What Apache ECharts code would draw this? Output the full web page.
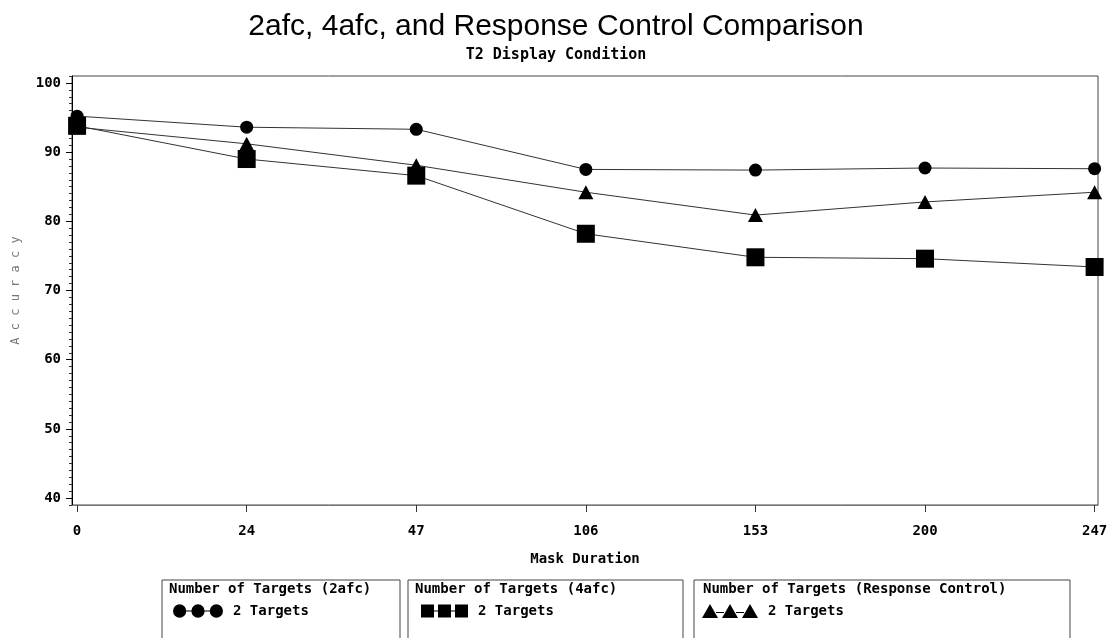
<!DOCTYPE html>
<html>
<head>
<meta charset="utf-8">
<title>2afc, 4afc, and Response Control Comparison</title>
<script src="https://cdn.jsdelivr.net/npm/echarts@6/dist/echarts.min.js"></script>
<style>
  html, body { margin: 0; padding: 0; background: #fff; }
  #chart { width: 1112px; height: 638px; }
</style>
</head>
<body>
<div id="chart"></div>
<script>
// x categories (mask duration, equally spaced)
var maskLabels = ['0', '24', '47', '106', '153', '200', '247'];
// accuracy per condition
var acc2afc = [95.2, 93.6, 93.3, 87.5, 87.4, 87.7, 87.6];
var acc4afc = [93.8, 89.0, 86.6, 78.2, 74.8, 74.6, 73.4];
var accResp = [93.6, 91.2, 88.1, 84.2, 80.9, 82.8, 84.2];
// y tick labels
var yTicks = [40, 50, 60, 70, 80, 90, 100];

var mono = 'DejaVu Sans Mono';
var monoSize = 14;

function toPoints(arr) {
  return arr.map(function (v, i) { return [i, v]; });
}

var minorTicks = [];
for (var t = 39; t <= 101; t++) minorTicks.push(t);
var xIdx = maskLabels.map(function (s, i) { return i; });

// legend icons: three markers joined by a line
var circleIcon = 'path://M0.5,7A6.5,6.5,0,1,1,13.5,7A6.5,6.5,0,1,1,0.5,7Z' +
  'M13,6.5L19,6.5L19,7.5L13,7.5Z' +
  'M18.5,7A6.5,6.5,0,1,1,31.5,7A6.5,6.5,0,1,1,18.5,7Z' +
  'M31,6.5L37,6.5L37,7.5L31,7.5Z' +
  'M36.5,7A6.5,6.5,0,1,1,49.5,7A6.5,6.5,0,1,1,36.5,7Z';
var squareIcon = 'path://M0,0L13,0L13,13L0,13Z M13,6L17,6L17,7L13,7Z M17,0L30,0L30,13L17,13Z' +
  'M30,6L34,6L34,7L30,7Z M34,0L47,0L47,13L34,13Z';
var triIcon = 'path://M8,0L16,14L0,14Z M14,8L22,8L22,9L14,9Z M28,0L36,14L20,14Z' +
  'M34,8L42,8L42,9L34,9Z M48,0L56,14L40,14Z';

var myChart = echarts.init(document.getElementById('chart'));

var lineStyle = { color: '#333', width: 1 };
var monoText = { fontFamily: mono, fontSize: monoSize, fontWeight: 'bold', color: '#000' };

function legendFor(name, icon, left, w, h) {
  return {
    left: left, top: 599,
    itemWidth: w, itemHeight: h,
    data: [{ name: name, icon: icon }],
    formatter: function () { return '2 Targets'; },
    textStyle: { fontFamily: mono, fontSize: monoSize, fontWeight: 'bold', color: '#000', padding: [0, 0, 0, 5] }
  };
}

function boxTitle(text, left) {
  return { type: 'text', left: left, top: 582,
    style: { text: text, font: 'bold ' + monoSize + 'px "DejaVu Sans Mono"', fill: '#000' } };
}

var option = {
  animation: false,
  backgroundColor: '#fff',
  title: [{
    text: '2afc, 4afc, and Response Control Comparison',
    left: 'center',
    top: 7,
    textStyle: { fontFamily: 'Liberation Sans', fontSize: 30, fontWeight: 'normal', color: '#000' }
  }, {
    text: 'T2 Display Condition',
    left: 'center',
    top: 43,
    textStyle: { fontFamily: mono, fontSize: 15, fontWeight: 'bold', color: '#000' }
  }],
  grid: {
    left: 72, right: 14, top: 76, bottom: 133,
    show: true, borderColor: '#444', borderWidth: 1
  },
  xAxis: {
    type: 'value',
    min: -0.03,
    max: 6.02,
    splitLine: { show: false },
    axisLine: { onZero: false, lineStyle: { color: '#777', width: 1 } },
    axisTick: { customValues: xIdx, length: 7, lineStyle: { color: '#333' } },
    axisLabel: {
      customValues: xIdx,
      margin: 19,
      fontFamily: mono, fontSize: monoSize, fontWeight: 'bold', color: '#000',
      formatter: function (v) { return maskLabels[Math.round(v)]; }
    },
    name: 'Mask Duration',
    nameLocation: 'middle',
    nameGap: 47,
    nameTextStyle: monoText
  },
  yAxis: [{
    type: 'value',
    min: 39,
    max: 101,
    splitLine: { show: false },
    axisLine: { show: true, onZero: false, lineStyle: { color: '#000', width: 1 } },
    axisTick: { customValues: minorTicks, length: 3, lineStyle: { color: '#333' } },
    axisLabel: { show: false }
  }, {
    type: 'value',
    position: 'left',
    min: 39,
    max: 101,
    splitLine: { show: false },
    axisLine: { show: false, onZero: false },
    axisTick: { customValues: yTicks, length: 6, lineStyle: { color: '#000' } },
    axisLabel: {
      customValues: yTicks,
      margin: 11,
      fontFamily: mono, fontSize: monoSize, fontWeight: 'bold', color: '#000'
    },
    name: 'A c c u r a c y',
    nameLocation: 'middle',
    nameRotate: 90,
    nameGap: 50,
    nameTextStyle: { fontFamily: mono, fontSize: 12, color: '#777' }
  }],
  legend: [
    legendFor('2afc', circleIcon, 168, 50, 14),
    legendFor('4afc', squareIcon, 416, 47, 13),
    legendFor('Response Control', triIcon, 697, 56, 14)
  ],
  graphic: [
    { type: 'rect', shape: { x: 162, y: 580, width: 238, height: 70 }, style: { fill: 'none', stroke: '#444', lineWidth: 1 } },
    { type: 'rect', shape: { x: 408, y: 580, width: 275, height: 70 }, style: { fill: 'none', stroke: '#444', lineWidth: 1 } },
    { type: 'rect', shape: { x: 694, y: 580, width: 376, height: 70 }, style: { fill: 'none', stroke: '#444', lineWidth: 1 } },
    boxTitle('Number of Targets (2afc)', 169),
    boxTitle('Number of Targets (4afc)', 415),
    boxTitle('Number of Targets (Response Control)', 703)
  ],
  series: [{
    name: '2afc',
    type: 'line',
    data: toPoints(acc2afc),
    symbol: 'circle',
    symbolSize: 13,
    itemStyle: { color: '#000' },
    lineStyle: lineStyle,
    z: 3
  }, {
    name: 'Response Control',
    type: 'line',
    data: toPoints(accResp),
    symbol: 'triangle',
    symbolSize: [15, 14],
    itemStyle: { color: '#000' },
    lineStyle: lineStyle,
    z: 2
  }, {
    name: '4afc',
    type: 'line',
    data: toPoints(acc4afc),
    symbol: 'rect',
    symbolSize: 18,
    itemStyle: { color: '#000' },
    lineStyle: lineStyle,
    z: 4
  }]
};

myChart.setOption(option);
</script>
</body>
</html>
